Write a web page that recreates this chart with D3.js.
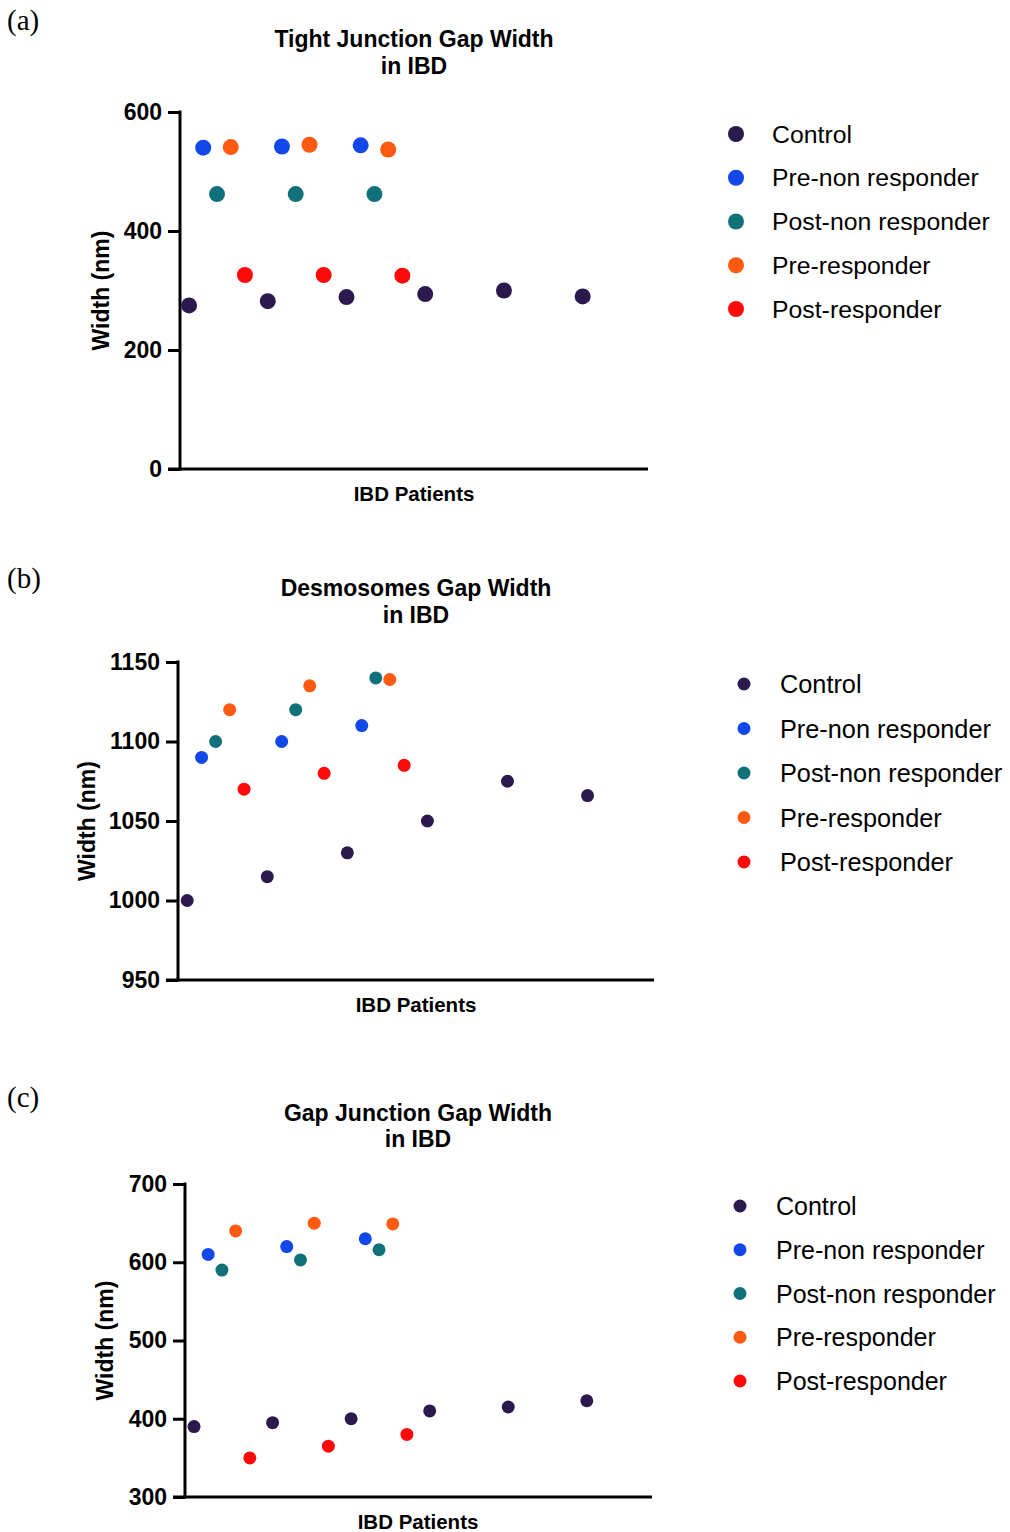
<!DOCTYPE html>
<html>
<head>
<meta charset="utf-8">
<script src="https://cdn.jsdelivr.net/npm/d3@7"></script>
<style>
  body { margin: 0; background: #fff; }
  svg { display: block; }
</style>
</head>
<body>
<svg id="chart" width="1010" height="1532"></svg>
<script>
'use strict';

// legend groups and colours
const groups = ["Control", "Pre-non responder", "Post-non responder", "Pre-responder", "Post-responder"];
const groupColors = ["#2c1a4f", "#1247ea", "#10717b", "#ff5a12", "#ff0a0a"];
// x slot of each patient, and shift of each group inside the slot
const controlPatients = [1, 2, 3, 4, 5, 6];
const treatedPatients = [1, 2, 3];
const groupShift = [0, 0.18, 0.355, 0.53, 0.71];

// (a) tight junction
const tjControl = [275, 282, 289, 294, 300, 290];
const tjPreNon = [540, 542, 544];
const tjPostNon = [462, 462, 462];
const tjPreResp = [541, 545, 537];
const tjPostResp = [326, 326, 325];
const tjTicks = [0, 200, 400, 600];

// (b) desmosomes
const dsControl = [1000, 1015, 1030, 1050, 1075, 1066];
const dsPreNon = [1090, 1100, 1110];
const dsPostNon = [1100, 1120, 1140];
const dsPreResp = [1120, 1135, 1139];
const dsPostResp = [1070, 1080, 1085];
const dsTicks = [950, 1000, 1050, 1100, 1150];

// (c) gap junction
const gjControl = [390, 395, 400, 410, 415, 423];
const gjPreNon = [610, 620, 630];
const gjPostNon = [590, 603, 616];
const gjPreResp = [640, 650, 649];
const gjPostResp = [350, 365, 380];
const gjTicks = [300, 400, 500, 600, 700];

const svg = d3.select("#chart");
const sans = "'Liberation Sans', Arial, Helvetica, sans-serif";

function buildPoints(series) {
  const pts = [];
  series.forEach((vals, g) => {
    const xs = g === 0 ? controlPatients : treatedPatients;
    vals.forEach((v, i) => pts.push({x: xs[i] + groupShift[g], y: v, g: g}));
  });
  return pts;
}

function drawPanel(p) {
  const g = svg.append("g");

  g.append("text")
    .attr("x", 7).attr("y", p.tagY)
    .attr("font-family", "'Liberation Serif', 'Times New Roman', serif")
    .attr("font-size", 29)
    .attr("dominant-baseline", "central")
    .text(p.tag);

  p.title.forEach((t, i) => {
    g.append("text")
      .attr("x", p.titleX).attr("y", p.titleY[i])
      .attr("text-anchor", "middle")
      .attr("dominant-baseline", "central")
      .attr("font-family", sans).attr("font-weight", "bold").attr("font-size", 23)
      .text(t);
  });

  const x = d3.scaleLinear().domain([0.885, 6.83]).range([p.left, p.right]);
  const y = d3.scaleLinear().domain(p.domain).range([p.bottom, p.top]);

  const yAxis = g.append("g")
    .attr("transform", `translate(${p.left},0)`)
    .call(d3.axisLeft(y).tickValues(p.ticks).tickFormat(d3.format("d"))
      .tickSize(12).tickPadding(6).tickSizeOuter(0));
  yAxis.select(".domain").attr("stroke-width", 3).attr("d", `M0,${p.bottom + 1.5}V${p.top - 1.5}`);
  yAxis.selectAll(".tick line").attr("stroke-width", 3);
  yAxis.selectAll(".tick text")
    .attr("font-family", sans).attr("font-weight", "bold").attr("font-size", 23)
    .attr("fill", "#000");

  const xAxis = g.append("g")
    .attr("transform", `translate(0,${p.bottom})`)
    .call(d3.axisBottom(x).tickValues([]).tickSizeOuter(0));
  xAxis.select(".domain").attr("stroke-width", 3).attr("d", `M${p.left - 12},0H${p.right}`);

  g.append("text")
    .attr("x", p.titleX).attr("y", p.bottom + 24)
    .attr("text-anchor", "middle").attr("dominant-baseline", "central")
    .attr("font-family", sans).attr("font-weight", "bold").attr("font-size", 20.5)
    .text("IBD Patients");

  g.append("text")
    .attr("transform", `translate(${p.yLabelX},${(p.top + p.bottom) / 2}) rotate(-90)`)
    .attr("text-anchor", "middle").attr("dominant-baseline", "central")
    .attr("font-family", sans).attr("font-weight", "bold").attr("font-size", 23)
    .text("Width (nm)");

  g.append("g").selectAll("circle")
    .data(buildPoints(p.series))
    .join("circle")
    .attr("cx", d => x(d.x))
    .attr("cy", d => y(d.y))
    .attr("r", p.r)
    .attr("fill", d => groupColors[d.g]);

  const legend = g.append("g");
  groups.forEach((name, i) => {
    const ly = p.legendY + i * p.legendStep;
    legend.append("circle")
      .attr("cx", p.legendX).attr("cy", ly).attr("r", p.r)
      .attr("fill", groupColors[i]);
    legend.append("text")
      .attr("x", p.legendX + 36).attr("y", ly)
      .attr("dominant-baseline", "central")
      .attr("font-family", sans).attr("font-size", p.legendFont)
      .text(name);
  });
}

drawPanel({
  tag: "(a)", tagY: 20,
  title: ["Tight Junction Gap Width", "in IBD"], titleX: 414, titleY: [39, 66],
  left: 180, right: 648, top: 112, bottom: 469, yLabelX: 101,
  domain: [0, 600], ticks: tjTicks, r: 8,
  series: [tjControl, tjPreNon, tjPostNon, tjPreResp, tjPostResp],
  legendX: 736, legendY: 134, legendStep: 43.75, legendFont: 24.8
});

drawPanel({
  tag: "(b)", tagY: 578,
  title: ["Desmosomes Gap Width", "in IBD"], titleX: 416, titleY: [588, 615],
  left: 178, right: 654, top: 662, bottom: 980, yLabelX: 87,
  domain: [950, 1150], ticks: dsTicks, r: 6.5,
  series: [dsControl, dsPreNon, dsPostNon, dsPreResp, dsPostResp],
  legendX: 744, legendY: 684, legendStep: 44.5, legendFont: 25.3
});

drawPanel({
  tag: "(c)", tagY: 1097,
  title: ["Gap Junction Gap Width", "in IBD"], titleX: 418, titleY: [1113, 1139],
  left: 185, right: 652, top: 1184, bottom: 1497, yLabelX: 105,
  domain: [300, 700], ticks: gjTicks, r: 6.5,
  series: [gjControl, gjPreNon, gjPostNon, gjPreResp, gjPostResp],
  legendX: 740, legendY: 1206, legendStep: 43.75, legendFont: 25
});
</script>
</body>
</html>
